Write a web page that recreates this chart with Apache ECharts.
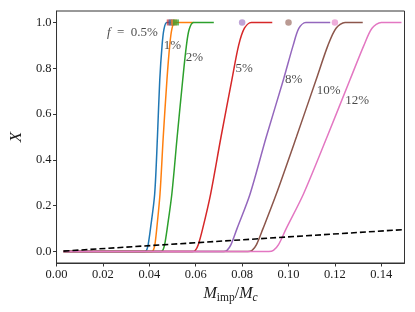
<!DOCTYPE html>
<html>
<head>
<meta charset="utf-8">
<script src="https://cdn.jsdelivr.net/npm/echarts@6/dist/echarts.min.js"></script>
<style>html,body{margin:0;padding:0;background:#fff}#c{width:415px;height:312px}</style>
</head>
<body>
<div id="c"></div>
<script>
// ---- data ----
const xTicks = [0.00, 0.02, 0.04, 0.06, 0.08, 0.10, 0.12, 0.14];
const yTicks = [0.0, 0.2, 0.4, 0.6, 0.8, 1.0];
const seriesNames = ['0.5%', '1%', '2%', '5%', '8%', '10%', '12%'];
const curve05 = [[0.003,0],[0.038,0],[0.0388,0.005],[0.0395,0.03],[0.0405,0.1],[0.0423,0.25],[0.0435,0.5],[0.0445,0.75],[0.0455,0.9],[0.0463,0.97],[0.0475,1],[0.0495,1]];
const curve1  = [[0.003,0],[0.041,0],[0.0417,0.005],[0.0424,0.03],[0.0432,0.1],[0.0446,0.25],[0.046,0.5],[0.0476,0.75],[0.0488,0.9],[0.0497,0.97],[0.051,1],[0.059,1]];
const curve2  = [[0.003,0],[0.045,0],[0.0458,0.005],[0.0466,0.03],[0.0477,0.1],[0.0497,0.25],[0.052,0.5],[0.0544,0.75],[0.056,0.9],[0.0572,0.97],[0.059,1],[0.0678,1]];
const curve5  = [[0.003,0],[0.0585,0],[0.0598,0.005],[0.0611,0.03],[0.063,0.1],[0.0664,0.25],[0.0709,0.5],[0.0756,0.75],[0.0785,0.9],[0.081,0.975],[0.084,1],[0.093,1]];
const curve8  = [[0.003,0],[0.072,0],[0.0735,0.005],[0.0752,0.03],[0.0778,0.1],[0.0834,0.25],[0.0904,0.5],[0.0978,0.75],[0.102,0.9],[0.1045,0.975],[0.1075,1],[0.118,1]];
const curve10 = [[0.003,0],[0.0825,0],[0.0843,0.005],[0.0862,0.03],[0.089,0.1],[0.0947,0.25],[0.1034,0.5],[0.1119,0.75],[0.117,0.9],[0.1205,0.975],[0.1244,1],[0.132,1]];
const curve12 = [[0.003,0],[0.0915,0],[0.0935,0.005],[0.0957,0.03],[0.099,0.1],[0.1064,0.25],[0.1166,0.5],[0.1265,0.75],[0.1325,0.9],[0.136,0.975],[0.140,1],[0.1487,1]];
const dashedLine = [[0.003,0.002],[0.15,0.096]];
// square markers (red, blue, orange, green) and circle markers (purple, brown, pink)
const squareX = [0.0488, 0.0496, 0.0506, 0.0515];
const squareColorIdx = [3, 0, 1, 2];
const circleX = [0.08, 0.10, 0.12];
const circleColorIdx = [4, 5, 6];
const markerY = 1.0;
// curve labels: [x, y, text, side]
const curveLabels = [
  [0.0437, 0.956, '{i|f}\u2002=\u20020.5%', 'left'],
  [0.0462, 0.898, '1%', 'right'],
  [0.0557, 0.847, '2%', 'right'],
  [0.0772, 0.800, '5%', 'right'],
  [0.0985, 0.751, '8%', 'right'],
  [0.1122, 0.704, '10%', 'right'],
  [0.1245, 0.661, '12%', 'right']
];

const colors = ['#1f77b4','#ff7f0e','#2ca02c','#d62728','#9467bd','#8c564b','#e377c2'];
const curves = [curve05, curve1, curve2, curve5, curve8, curve10, curve12];
const FONT = '"Liberation Serif", "DejaVu Serif", serif';
const TXT = '#1a1a1a';

const series = curves.map((d, i) => ({
  name: seriesNames[i], type: 'line', data: d, showSymbol: false, symbol: 'none',
  smooth: 0.3, lineStyle: { color: colors[i], width: 1.5 }, z: 2 + i, silent: true
}));
series.push({
  type: 'line', data: dashedLine, showSymbol: false, symbol: 'none',
  lineStyle: { color: '#000', width: 1.6, type: [6, 3] }, z: 20, silent: true
});
series.push({
  type: 'scatter', symbol: 'rect', symbolSize: 6, z: 21,
  data: squareX.map((x, i) => ({ value: [x, markerY], itemStyle: { color: colors[squareColorIdx[i]], opacity: 0.7 } }))
});
series.push({
  type: 'scatter', symbol: 'circle', symbolSize: 6.5, z: 21,
  data: circleX.map((x, i) => ({ value: [x, markerY], itemStyle: { color: colors[circleColorIdx[i]], opacity: 0.6 } }))
});
series.push({
  type: 'scatter', symbolSize: 0, z: 22, silent: true,
  data: curveLabels.map(l => ({
    value: [l[0], l[1]],
    label: {
      show: true, position: l[3], distance: 0, formatter: l[2],
      fontFamily: FONT, fontSize: 13, color: TXT,
      rich: { i: { fontStyle: 'italic', fontFamily: FONT, fontSize: 13, color: TXT } }
    }
  }))
});

const chart = echarts.init(document.getElementById('c'), null, { renderer: 'canvas' });
chart.setOption({
  animation: false,
  backgroundColor: '#fff',
  grid: { left: 50.5, right: 10.5, top: 11, bottom: 49, show: true, borderColor: '#333', borderWidth: 1, containLabel: false },
  xAxis: {
    type: 'value', min: 0, max: 0.15,
    axisLine: { show: true, onZero: false, lineStyle: { color: '#333', width: 1 } },
    axisTick: { show: true, length: 3.5, lineStyle: { color: '#333' }, customValues: xTicks },
    axisLabel: { customValues: xTicks, formatter: v => v.toFixed(2), fontFamily: FONT, fontSize: 12.5, color: TXT, margin: 5 },
    splitLine: { show: false },
    name: '{i|M}{sub|imp}{n|/}{i|M}{subi|c}',
    nameLocation: 'middle', nameGap: 20,
    nameTextStyle: {
      fontFamily: FONT, fontSize: 16, color: TXT,
      rich: {
        i: { fontStyle: 'italic', fontFamily: FONT, fontSize: 16, color: TXT, lineHeight: 18, verticalAlign: 'top' },
        n: { fontFamily: FONT, fontSize: 16, color: TXT, lineHeight: 18, verticalAlign: 'top' },
        sub: { fontFamily: FONT, fontSize: 11.5, color: TXT, lineHeight: 18, verticalAlign: 'bottom' },
        subi: { fontStyle: 'italic', fontFamily: FONT, fontSize: 11.5, color: TXT, lineHeight: 18, verticalAlign: 'bottom' }
      }
    }
  },
  yAxis: {
    type: 'value', min: -0.05, max: 1.05,
    axisLine: { show: true, onZero: false, lineStyle: { color: '#333', width: 1 } },
    axisTick: { show: true, length: 3.5, lineStyle: { color: '#333' }, customValues: yTicks },
    axisLabel: { customValues: yTicks, formatter: v => v.toFixed(1), fontFamily: FONT, fontSize: 12.5, color: TXT, margin: 5 },
    splitLine: { show: false },
    name: 'X', nameLocation: 'middle', nameGap: 31, nameRotate: 90,
    nameTextStyle: { fontFamily: FONT, fontSize: 17, fontStyle: 'italic', color: TXT }
  },
  series: series
});
</script>
</body>
</html>
